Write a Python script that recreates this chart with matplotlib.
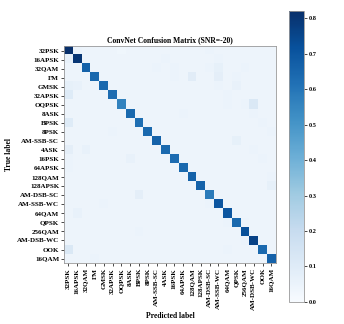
import matplotlib
matplotlib.use("Agg")
import matplotlib.pyplot as plt
import numpy as np

plt.rcParams['font.family'] = ['Liberation Serif', 'DejaVu Serif']

labels = ["32PSK", "16APSK", "32QAM", "FM", "GMSK", "32APSK", "OQPSK", "8ASK",
          "BPSK", "8PSK", "AM-SSB-SC", "4ASK", "16PSK", "64APSK", "128QAM",
          "128APSK", "AM-DSB-SC", "AM-SSB-WC", "64QAM", "QPSK", "256QAM",
          "AM-DSB-WC", "OOK", "16QAM"]

# confusion matrix values in percent (rows = true, cols = predicted)
cm_pct = [
    [82, 5, 4, 4, 4, 4, 3, 4, 4, 4, 4, 4, 4, 4, 4, 4, 5, 4, 4, 4, 4, 4, 4, 4],
    [6, 80, 4, 4, 4, 4, 4, 4, 4, 4, 4, 5, 4, 4, 4, 4, 4, 5, 4, 4, 4, 4, 4, 4],
    [4, 4, 66, 4, 4, 4, 4, 4, 4, 4, 5, 4, 5, 4, 4, 4, 5, 7, 4, 4, 5, 4, 4, 4],
    [4, 4, 4, 64, 4, 4, 4, 4, 4, 4, 4, 4, 5, 4, 9, 4, 4, 8, 4, 5, 4, 4, 4, 4],
    [7, 6, 4, 4, 64, 4, 4, 4, 4, 4, 4, 4, 4, 4, 4, 4, 4, 5, 4, 6, 4, 4, 4, 4],
    [10, 4, 4, 4, 4, 63, 4, 4, 4, 4, 4, 4, 4, 4, 4, 4, 4, 4, 5, 4, 4, 4, 4, 4],
    [4, 4, 4, 4, 4, 4, 56, 4, 4, 4, 4, 4, 4, 4, 4, 4, 4, 4, 5, 4, 5, 12, 4, 4],
    [4, 4, 4, 4, 4, 4, 4, 64, 4, 4, 4, 4, 4, 5, 4, 4, 4, 4, 4, 4, 4, 5, 4, 4],
    [10, 4, 4, 4, 4, 4, 4, 4, 62, 4, 4, 4, 4, 4, 4, 4, 4, 4, 4, 4, 4, 4, 5, 4],
    [4, 4, 4, 4, 4, 5, 4, 4, 4, 64, 4, 4, 4, 4, 4, 4, 4, 4, 4, 4, 4, 4, 4, 5],
    [4, 4, 4, 4, 4, 4, 4, 4, 4, 4, 66, 4, 4, 4, 4, 4, 4, 4, 4, 7, 4, 4, 4, 4],
    [8, 4, 6, 4, 4, 4, 4, 4, 4, 4, 4, 64, 4, 4, 4, 4, 4, 4, 4, 4, 4, 5, 4, 4],
    [5, 4, 4, 4, 4, 4, 4, 6, 4, 4, 4, 4, 63, 4, 4, 4, 4, 4, 4, 4, 4, 4, 5, 4],
    [5, 4, 4, 4, 4, 4, 4, 4, 4, 4, 4, 4, 4, 64, 4, 4, 4, 4, 4, 4, 4, 4, 4, 4],
    [4, 4, 4, 4, 4, 4, 4, 4, 4, 4, 4, 4, 4, 4, 66, 4, 4, 4, 4, 4, 4, 4, 4, 5],
    [4, 4, 4, 4, 4, 4, 4, 4, 4, 4, 4, 4, 4, 4, 4, 66, 4, 4, 4, 4, 4, 4, 4, 7],
    [4, 4, 4, 4, 4, 4, 4, 4, 8, 4, 4, 4, 4, 4, 4, 4, 58, 4, 4, 4, 4, 4, 4, 4],
    [4, 4, 4, 4, 5, 4, 4, 4, 4, 4, 4, 4, 4, 4, 4, 4, 5, 70, 4, 4, 4, 4, 4, 4],
    [4, 6, 4, 4, 4, 4, 4, 4, 4, 4, 4, 4, 4, 4, 4, 4, 4, 4, 70, 4, 4, 4, 4, 4],
    [4, 4, 4, 4, 4, 4, 4, 4, 4, 4, 4, 4, 4, 4, 4, 4, 4, 4, 5, 64, 5, 4, 4, 4],
    [4, 4, 4, 4, 4, 4, 4, 4, 5, 4, 4, 4, 4, 4, 4, 4, 4, 4, 4, 4, 72, 4, 4, 4],
    [4, 4, 4, 4, 4, 4, 4, 4, 4, 4, 4, 4, 4, 4, 4, 4, 4, 4, 4, 4, 5, 76, 4, 4],
    [12, 4, 4, 4, 4, 4, 4, 4, 4, 4, 4, 4, 4, 4, 4, 4, 4, 4, 5, 4, 4, 4, 64, 4],
    [4, 4, 4, 5, 4, 4, 4, 4, 4, 4, 4, 4, 4, 4, 4, 4, 4, 4, 4, 4, 4, 4, 4, 66],
]

cm = np.array(cm_pct) / 100.0

fig = plt.figure(figsize=(3.44, 3.24), dpi=100)
ax = fig.add_axes([0.186, 0.188, 0.616, 0.670])
cax = fig.add_axes([0.840, 0.068, 0.044, 0.898])

im = ax.imshow(cm, cmap='Blues', aspect='auto', interpolation='nearest',
               vmin=0, vmax=cm.max())
ax.set_title('ConvNet Confusion Matrix (SNR=-20)', fontsize=5.5,
             fontweight='bold', pad=3)
ticks = np.arange(len(labels))
ax.set_xticks(ticks)
ax.set_xticklabels(labels, rotation=90, fontsize=5, fontweight='bold')
ax.set_yticks(ticks)
ax.set_yticklabels(labels, fontsize=5, fontweight='bold')
ax.tick_params(length=2, width=0.5, pad=1.5)
ax.set_ylabel('True label', fontsize=5.5, fontweight='bold', labelpad=3)
ax.set_xlabel('Predicted label', fontsize=5.5, fontweight='bold', labelpad=1)
for sp in ax.spines.values():
    sp.set_color('#999999')
    sp.set_linewidth(0.6)

cb = fig.colorbar(im, cax=cax)
cb.set_ticks([0.0, 0.1, 0.2, 0.3, 0.4, 0.5, 0.6, 0.7, 0.8])
for t in cb.ax.get_yticklabels():
    t.set_fontweight('bold')
cb.ax.tick_params(labelsize=4.5, length=2, width=0.5, pad=1)
cb.outline.set_edgecolor('#999999')
cb.outline.set_linewidth(0.6)

plt.savefig('out.png', dpi=100)
